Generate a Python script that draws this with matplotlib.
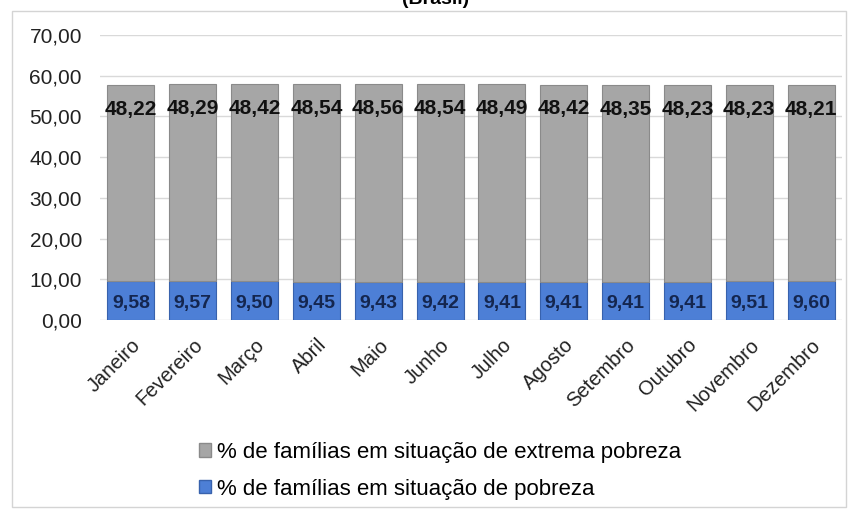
import matplotlib.pyplot as plt
from matplotlib.patches import Rectangle, Patch

meses = ["Janeiro", "Fevereiro", "Março", "Abril", "Maio", "Junho",
         "Julho", "Agosto", "Setembro", "Outubro", "Novembro", "Dezembro"]
pobreza = [9.58, 9.57, 9.50, 9.45, 9.43, 9.42, 9.41, 9.41, 9.41, 9.41, 9.51, 9.60]
extrema = [48.22, 48.29, 48.42, 48.54, 48.56, 48.54, 48.49, 48.42, 48.35, 48.23, 48.23, 48.21]
y_ticks = [0, 10, 20, 30, 40, 50, 60, 70]

lbl_extrema = "% de famílias em situação de extrema pobreza"
lbl_pobreza = "% de famílias em situação de pobreza"

plt.rcParams["font.family"] = ["Liberation Sans", "DejaVu Sans"]
GRAY = "#a6a6a6"
BLUE = "#4d7fd6"


def fmt(v):
    return f"{v:.2f}".replace(".", ",")


fig = plt.figure(figsize=(8.53, 5.12), dpi=100)
# outer chart frame
fig.patches.append(Rectangle((12 / 853, 5 / 512), 834 / 853, 496 / 512,
                             transform=fig.transFigure, fill=False,
                             edgecolor="#d4d4d4", lw=1.0))
fig.text(436 / 853, 1 - 4 / 512, "(Brasil)", ha="center", va="baseline",
         fontsize=14, fontweight="bold")

ax = fig.add_axes([100 / 853, 1 - 320 / 512, 742 / 853, 285 / 512])
x = range(len(meses))
ax.bar(x, pobreza, width=0.76, color=BLUE, edgecolor="#3862ad", lw=0.8, zorder=3)
ax.bar(x, extrema, width=0.76, bottom=pobreza, color=GRAY, edgecolor="#8a8a8a",
       lw=0.8, zorder=3)

for i in x:
    ax.text(i, 4.0, fmt(pobreza[i]), ha="center", va="center",
            fontsize=14, fontweight="bold", color="#14264f", zorder=4)
    ax.text(i, pobreza[i] + extrema[i] - 6.0, fmt(extrema[i]), ha="center",
            va="center", fontsize=15, fontweight="bold", color="#111111", zorder=4)

ax.set_xlim(-0.5, len(meses) - 0.5)
ax.set_ylim(0, 70)
ax.set_yticks(y_ticks)
ax.set_yticklabels([fmt(v) for v in y_ticks], fontsize=15, color="#222222")
ax.set_xticks(list(x))
ax.set_xticklabels(meses, rotation=45, ha="right", rotation_mode="anchor",
                   fontsize=14.5, color="#222222")
ax.tick_params(length=0)
ax.tick_params(axis="x", pad=11)
ax.tick_params(axis="y", pad=13)
ax.grid(axis="y", color="#d9d9d9", lw=1.0, zorder=0)
for s in ax.spines.values():
    s.set_visible(False)

handles = [Patch(facecolor=GRAY, edgecolor="#8a8a8a", label=lbl_extrema),
           Patch(facecolor=BLUE, edgecolor="#3862ad", label=lbl_pobreza)]
fig.legend(handles=handles, loc="upper left", bbox_to_anchor=(199 / 853, 1 - 442 / 512),
           frameon=False, fontsize=16, handlelength=0.55, handleheight=0.55,
           handletextpad=0.25, labelspacing=0.7, borderaxespad=0, borderpad=0)

fig.savefig("out.png", dpi=100)
